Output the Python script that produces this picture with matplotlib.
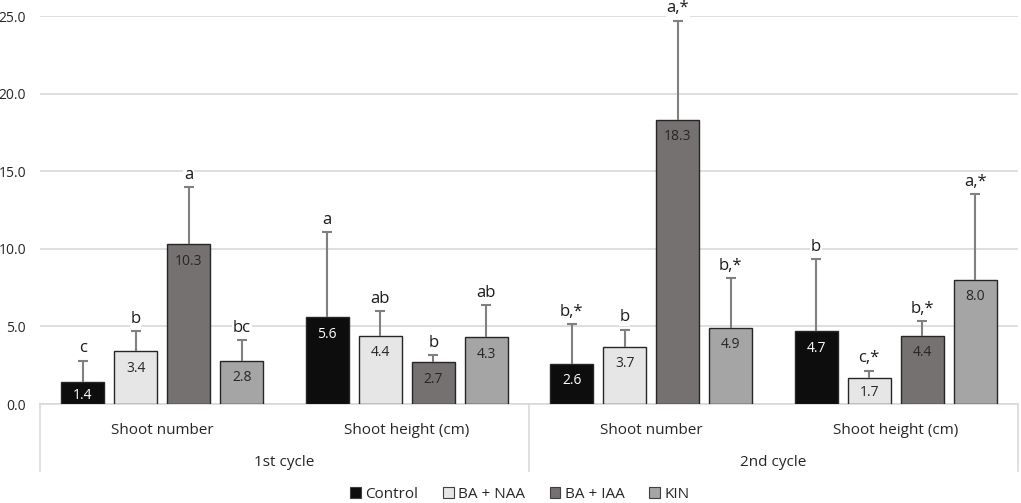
import matplotlib
matplotlib.use("Agg")
from matplotlib import pyplot as plt
from matplotlib.patches import Patch
import matplotlib.transforms as mtransforms
import numpy as np

plt.rcParams['font.family'] = ['Open Sans', 'DejaVu Sans']

# data
categories = ["Shoot number", "Shoot height (cm)", "Shoot number", "Shoot height (cm)"]
cycles = ["1st cycle", "2nd cycle"]
treatments = ["Control", "BA + NAA", "BA + IAA", "KIN"]
means = [
    [1.4, 5.6, 2.6, 4.7],   # Control
    [3.4, 4.4, 3.7, 1.7],   # BA + NAA
    [10.3, 2.7, 18.3, 4.4], # BA + IAA
    [2.8, 4.3, 4.9, 8.0],   # KIN
]
errors = [
    [1.4, 5.5, 2.55, 4.65],
    [1.3, 1.6, 1.1, 0.45],
    [3.7, 0.45, 6.4, 0.95],
    [1.3, 2.1, 3.2, 5.5],
]
letters = [
    ["c", "a", "b,*", "b"],
    ["b", "ab", "b", "c,*"],
    ["a", "b", "a,*", "b,*"],
    ["bc", "ab", "b,*", "a,*"],
]
colors = ["#0d0d0d", "#e7e6e6", "#767171", "#a5a5a5"]
label_colors = ["white", "#262626", "#262626", "#262626"]
yticks = [0, 5, 10, 15, 20, 25]


def main():
    fig = plt.figure(figsize=(10.21, 5.03), dpi=100)
    W, H = 1021, 503
    ax = fig.add_axes([40 / W, (H - 404) / H, (1018 - 40) / W, (404 - 16) / H])
    px_per_unit = (404 - 16) / 25.0

    x = np.arange(len(categories))
    step = 0.217
    width = 0.176
    for i in range(len(treatments)):
        pos = x + (i - 1.5) * step
        ax.bar(pos, means[i], width, color=colors[i], edgecolor="#262626",
               linewidth=1.0, zorder=3, label=treatments[i])
        eb = ax.errorbar(pos, means[i], yerr=[np.zeros(len(x)), errors[i]], fmt="none",
                         ecolor="#808080", elinewidth=1.5, capsize=3.5, capthick=1.5, zorder=4)
        # only the upper cap, like the original
        eb[1][0].set_visible(False)
        for j in range(len(x)):
            # value label just inside the bar end (kept inside short bars)
            off = min(17 / px_per_unit, means[i][j] / 2 + 2 / px_per_unit)
            ax.text(pos[j], means[i][j] - off, f"{means[i][j]:.1f}", ha="center", va="center",
                    fontsize=10, color=label_colors[i], zorder=5)
            ax.annotate(letters[i][j], (pos[j], means[i][j] + errors[i][j]), xytext=(0, 3),
                        textcoords="offset points", ha="center", va="bottom",
                        fontsize=12, color="#1a1a1a", zorder=5,
                        bbox=dict(facecolor="white", edgecolor="none", pad=0.5))

    ax.set_xlim(-0.5, 3.5)
    ax.set_ylim(0, 25)
    ax.set_yticks(yticks)
    ax.set_yticklabels([f"{v:.1f}" for v in yticks], fontsize=10, color="#262626")
    ax.set_xticks([])
    ax.tick_params(axis="y", length=0, pad=10)
    ax.yaxis.grid(True, color="#d9d9d9", linewidth=1.2, zorder=0)
    ax.set_axisbelow(True)
    for s in ["top", "right", "left"]:
        ax.spines[s].set_visible(False)
    ax.spines["bottom"].set_color("#d9d9d9")
    ax.spines["bottom"].set_linewidth(1.2)

    # two-level category axis
    trans = mtransforms.blended_transform_factory(ax.transData, ax.transAxes)
    ax_h = 404 - 16
    for j in range(len(categories)):
        ax.text(x[j], -(430 - 404) / ax_h, categories[j], transform=trans,
                ha="center", va="center", fontsize=11, color="#262626")
    for k in range(len(cycles)):
        ax.text(0.5 + 2 * k, -(463 - 404) / ax_h, cycles[k], transform=trans,
                ha="center", va="center", fontsize=11, color="#262626")
    for xv in [-0.5, 1.5, 3.5]:
        ax.plot([xv, xv], [0, -(471 - 404) / ax_h], transform=trans, clip_on=False,
                color="#d9d9d9", linewidth=1.2)

    handles = [Patch(facecolor=colors[i], edgecolor="#404040", linewidth=0.8)
               for i in range(len(treatments))]
    fig.legend(handles, treatments, loc="center", bbox_to_anchor=(520 / W, 1 - 494 / H),
               ncol=4, frameon=False, fontsize=11, handlelength=0.7, handleheight=0.7,
               handletextpad=0.3, columnspacing=1.6, labelcolor="#262626")

    fig.savefig("out.png", dpi=100)


if __name__ == "__main__":
    main()
